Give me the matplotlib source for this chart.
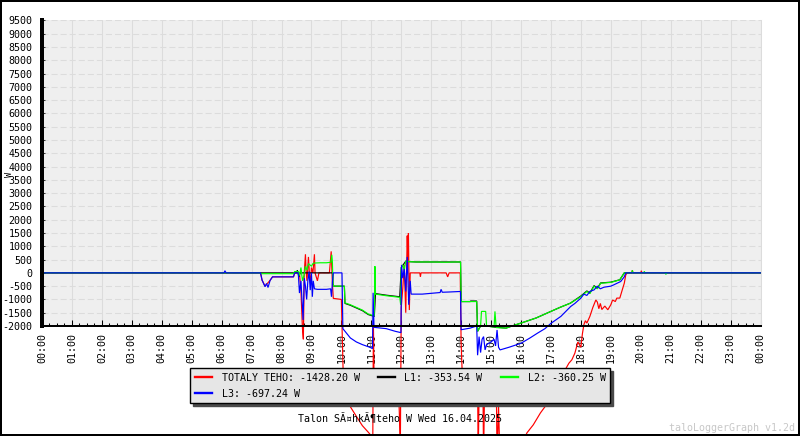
import matplotlib
matplotlib.use('Agg')
import matplotlib.pyplot as plt
from matplotlib.lines import Line2D
from matplotlib.patches import Rectangle

# ---------------- data (hour of day, watts) ----------------
total_pts = [(0, 0), (7.3, 0), (7.35, -270), (7.45, -500), (7.62, -280), (7.7, -150), (8.4, -150), (8.44, 0),
             (8.6, 0), (8.65, -700), (8.7, -2100), (8.73, -2500), (8.76, 0), (8.8, 700), (8.82, 100), (8.85, -300),
             (8.9, 600), (8.93, 0), (8.97, -400), (9.0, 200), (9.05, 0), (9.1, 700), (9.12, 0), (9.2, -300),
             (9.25, 0), (9.6, 0), (9.66, 810), (9.7, -400), (9.73, -960), (10.0, -1000), (10.08, -4700),
             (10.3, -5040), (10.5, -5400), (10.7, -5750), (10.9, -6000), (11.05, -6200), (11.07, -1900),
             (11.09, -3900), (11.9, -4000), (11.97, -6500), (12.0, -1300), (12.05, -600), (12.1, 300),
             (12.15, -1500), (12.2, 1400), (12.22, 500), (12.24, 1500), (12.27, -1400), (12.3, 0), (12.62, 0),
             (12.64, -150), (12.66, 0), (13.5, 0), (13.55, -150), (13.6, 0), (13.97, 0), (14.0, -2640),
             (14.05, -4200), (14.55, -4200), (14.57, -7000), (14.6, -4500), (14.73, -4500), (14.75, -7000),
             (14.78, -4600), (15.18, -4700), (15.2, -7000), (15.25, -5000), (15.3, -7200), (16.0, -6500),
             (16.2, -6020), (16.41, -5720), (16.65, -5270), (16.8, -5040), (17.2, -4300), (17.45, -3700),
             (17.6, -3400), (17.7, -3270), (17.8, -3020), (17.9, -2600), (18.0, -2800), (18.05, -2300),
             (18.1, -1950), (18.15, -1800), (18.2, -1890), (18.3, -1640), (18.4, -1300), (18.5, -1020),
             (18.55, -1100), (18.6, -1350), (18.65, -1150), (18.7, -1380), (18.8, -1250), (18.9, -1390),
             (19.0, -1200), (19.06, -1020), (19.15, -1080), (19.2, -950), (19.3, -950), (19.4, -575),
             (19.45, -390), (19.5, -75), (19.55, 0), (19.7, 0), (19.72, 100), (19.74, 0), (20.0, 0),
             (20.02, 80), (20.04, 0), (24, 0)]

l1_pts = [(0, 0), (8.5, 0), (8.53, 100), (8.58, -150), (8.62, 0), (9.71, 0), (9.72, -440), (9.75, -500),
          (10.1, -500), (10.12, -1150), (10.3, -1220), (10.5, -1320), (10.7, -1420), (10.9, -1570),
          (11.1, -1640), (11.14, -780), (11.5, -840), (11.95, -900), (12.0, 200), (12.15, 440), (12.3, 420),
          (12.5, 410), (13.98, 410), (14.0, -1080), (14.3, -1080), (14.32, -1060), (14.52, -1060),
          (14.55, -2200), (14.65, -2000), (14.85, -2000), (15.1, -2040), (15.5, -2080), (15.7, -2000),
          (16.0, -1890), (16.5, -1700), (17.0, -1450), (17.3, -1300), (17.65, -1140), (18.0, -870),
          (18.2, -680), (18.3, -760), (18.44, -480), (18.55, -580), (18.66, -380), (19.0, -350),
          (19.3, -260), (19.45, 0), (24, 0)]

l2_pts = [(0, 0), (7.29, 0), (7.3, -30), (8.4, -30), (8.44, 50), (8.56, 50), (8.6, -100), (8.65, 200),
          (8.7, -300), (8.75, -100), (8.8, 250), (8.85, 100), (8.9, 350), (9.0, 250), (9.05, 350), (9.1, 370),
          (9.3, 380), (9.5, 380), (9.65, 400), (9.68, 680), (9.7, 400), (9.72, -440), (9.75, -500),
          (10.1, -500), (10.12, -1130), (10.3, -1200), (10.5, -1300), (10.7, -1400), (10.9, -1550),
          (11.1, -1620), (11.12, 250), (11.14, -800), (11.5, -860), (11.8, -900), (11.95, -920),
          (11.98, -1190), (12.0, 200), (12.05, 300), (12.1, 100), (12.15, 440), (12.3, 420), (12.5, 410),
          (13.0, 410), (13.5, 400), (13.8, 410), (13.98, 410), (14.0, -1080), (14.52, -1080), (14.55, -2200),
          (14.65, -2000), (14.68, -1450), (14.82, -1450), (14.85, -2000), (15.1, -2040), (15.13, -1450),
          (15.17, -2060), (15.5, -2080), (15.7, -2000), (16.0, -1890), (16.5, -1700), (17.0, -1450),
          (17.3, -1300), (17.65, -1140), (18.0, -890), (18.2, -700), (18.3, -780), (18.44, -500),
          (18.55, -600), (18.66, -390), (19.0, -360), (19.3, -260), (19.45, 0), (19.7, 0), (19.72, 100),
          (19.74, 0), (20.1, 0), (20.12, 60), (20.14, 0), (20.82, 0), (20.84, -60), (20.86, 0), (24, 0)]

l3_pts = [(0, 0), (6.08, 0), (6.11, 80), (6.15, 0), (7.30, 0), (7.35, -270), (7.45, -520), (7.5, -400),
          (7.55, -550), (7.62, -280), (7.7, -150), (8.4, -150), (8.44, 0), (8.56, 0), (8.6, -760),
          (8.65, -300), (8.72, -1770), (8.76, -200), (8.8, -500), (8.84, -1000), (8.88, -300), (8.92, 50),
          (8.96, -650), (9.0, 0), (9.03, -900), (9.06, -300), (9.1, -600), (9.2, -620), (9.5, -620),
          (9.64, -600), (9.67, -900), (9.7, -350), (9.73, 0), (10.02, 0), (10.05, -2100), (10.3, -2450),
          (10.5, -2600), (10.7, -2700), (10.95, -2800), (11.04, -2850), (11.06, -750), (11.09, -2050),
          (11.5, -2100), (11.8, -2200), (11.99, -2250), (12.01, 300), (12.05, -200), (12.1, 150),
          (12.15, -700), (12.2, 600), (12.25, -1200), (12.3, -300), (12.33, -800), (12.7, -800),
          (13.0, -770), (13.3, -740), (13.33, -620), (13.37, -730), (13.6, -720), (13.98, -700),
          (14.0, -2140), (14.3, -2080), (14.52, -2000), (14.55, -3100), (14.6, -2400), (14.65, -3000),
          (14.7, -2500), (14.75, -2400), (14.8, -2900), (14.85, -2700), (15.0, -2600), (15.1, -2500),
          (15.15, -2750), (15.2, -2150), (15.25, -2800), (15.3, -2900), (15.6, -2800), (16.0, -2650),
          (16.3, -2450), (16.55, -2270), (16.8, -2100), (17.0, -1900), (17.33, -1640), (17.66, -1265),
          (17.8, -1150), (18.0, -950), (18.1, -800), (18.2, -850), (18.3, -700), (18.44, -640),
          (18.55, -500), (18.65, -600), (18.77, -540), (19.0, -500), (19.1, -450), (19.33, -325),
          (19.45, -150), (19.5, 0), (24, 0)]

series_labels = ['TOTALY TEHO: -1428.20 W', 'L1: -353.54 W', 'L2: -360.25 W', 'L3: -697.24 W']
series_colors = ['#ff0000', '#000000', '#00ff00', '#0000ff']

y_ticks = [-2000, -1500, -1000, -500, 0, 500, 1000, 1500, 2000, 2500, 3000, 3500, 4000, 4500,
           5000, 5500, 6000, 6500, 7000, 7500, 8000, 8500, 9000, 9500]
x_ticks = list(range(25))
x_labels = ['00:00', '01:00', '02:00', '03:00', '04:00', '05:00', '06:00', '07:00', '08:00', '09:00',
            '10:00', '11:00', '12:00', '13:00', '14:00', '15:00', '16:00', '17:00', '18:00', '19:00',
            '20:00', '21:00', '22:00', '23:00', '00:00']
title_text = 'Talon SÃ¤hkÃ¶teho W Wed 16.04.2025'
watermark = 'taloLoggerGraph v1.2d'

# ---------------- drawing ----------------
plt.rcParams['font.family'] = ['DejaVu Sans Mono', 'DejaVu Sans']
FS = 7.2

fig = plt.figure(figsize=(8, 4.36), dpi=100)
W, H = 800, 436
ax = fig.add_axes([42 / W, 1 - 326 / H, (760.5 - 42) / W, (326 - 20.5) / H])
ax.set_facecolor('#efefef')
ax.set_xlim(0, 24)
ax.set_ylim(-2000, 9500)

ax.set_yticks(y_ticks)
ax.set_yticklabels([str(v) for v in y_ticks])
ax.set_xticks(x_ticks)
ax.set_xticklabels(x_labels, rotation=90)
ax.set_xticks([h / 4 for h in range(97)], minor=True)

ax.grid(axis='y', which='major', color='#dcdcdc', lw=0.75, linestyle=(0, (5.8, 2.9)))
ax.grid(axis='x', which='major', color='#dcdcdc', lw=0.75, linestyle='-')
ax.set_axisbelow(True)

ax.tick_params(axis='x', which='major', direction='in', length=4.5, width=0.75, color='black',
               pad=5, labelsize=FS)
ax.tick_params(axis='x', which='minor', direction='in', length=2.2, width=0.75, color='black')
ax.tick_params(axis='y', which='major', direction='in', length=2.2, width=0.75, color='#333333',
               pad=6.8, labelsize=FS)

ax.spines['left'].set_linewidth(2.88)
ax.spines['left'].set_color('black')
ax.spines['bottom'].set_linewidth(1.44)
ax.spines['bottom'].set_color('black')
ax.spines['right'].set_color('#dcdcdc')
ax.spines['right'].set_linewidth(0.75)
ax.spines['top'].set_visible(False)

for pts, col in zip([total_pts, l1_pts, l2_pts, l3_pts], series_colors):
    t, v = zip(*pts)
    ax.plot(t, v, color=col, lw=0.85, clip_on=False, solid_joinstyle='miter')

handles = [Line2D([], [], color=c, lw=1.7) for c in series_colors]
order = [0, 3, 1, 2]
leg = fig.legend([handles[i] for i in order], [series_labels[i] for i in order], ncol=3,
                 loc='upper left', bbox_to_anchor=(190 / W, 1 - 368 / H), borderaxespad=0,
                 fontsize=FS, frameon=True, fancybox=False, edgecolor='black', facecolor='#e6e6e6',
                 framealpha=1, shadow={'color': '#4a4a4a', 'alpha': 1},
                 handlelength=1.7, handletextpad=1.0, columnspacing=1.8, borderpad=0.45,
                 labelspacing=0.6)
leg.get_frame().set_linewidth(1.0)

fig.text(400 / W, 1 - 419 / H, title_text, ha='center', va='center', fontsize=FS)
fig.text(795 / W, 1 - 427.5 / H, watermark, ha='right', va='center', fontsize=FS, color='#c8c8c8')
fig.text(9 / W, 1 - 174 / H, 'W', rotation=90, ha='center', va='center', fontsize=FS * 0.85)

fig.add_artist(Rectangle((0, 0), 1, 1, transform=fig.transFigure, fill=False, ec='black', lw=2.88,
                         zorder=10))

fig.savefig('out.png', dpi=100)
